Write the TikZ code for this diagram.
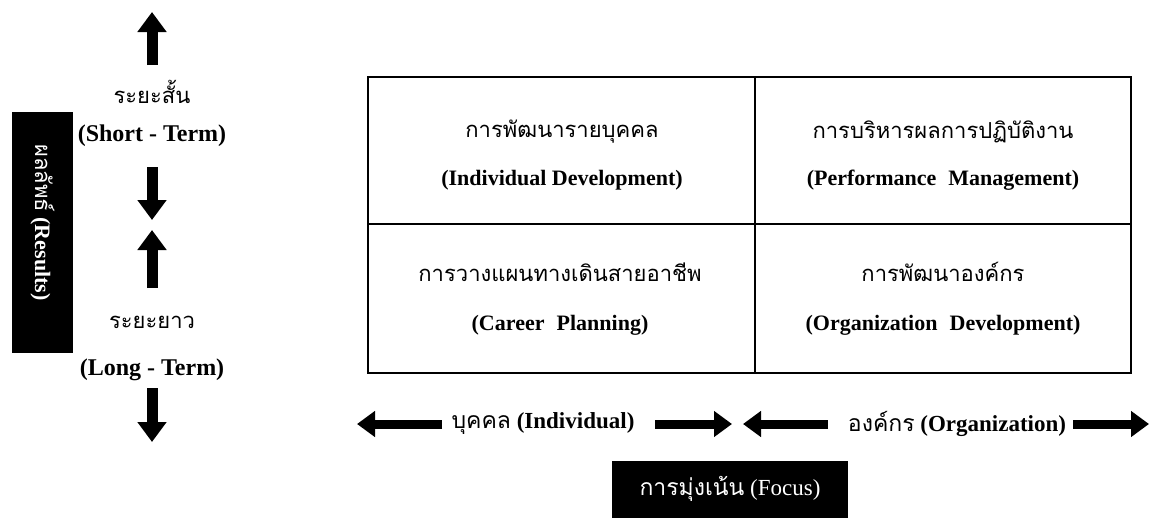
\documentclass[tikz,border=0pt]{standalone}
\usepackage{fontspec}
\setmainfont{Liberation Serif}
\newfontfamily\thaifont[Script=Thai]{Loma}
\usetikzlibrary{arrows.meta}

\newcommand{\wsp}{\hspace{0.55em}}

\tikzset{
  thaitext/.style={font=\thaifont\fontsize{22}{26}\selectfont, inner sep=0pt},
  engtext/.style={font=\bfseries\fontsize{22}{26}\selectfont, inner sep=0pt},
  sidethai/.style={font=\thaifont\fontsize{22}{26}\selectfont, inner sep=0pt},
  sideeng/.style={font=\bfseries\fontsize{24}{28}\selectfont, inner sep=0pt},
  axistext/.style={font=\fontsize{23}{27}\selectfont, inner sep=0pt},
  vertarrow/.style={line width=11pt, -{Triangle[length=20pt,width=28pt]}},
  horizarrow/.style={line width=9pt, -{Triangle[length=18pt,width=25pt]}},
  cellbox/.style={draw, line width=1.4pt},
  blackbox/.style={fill=black, draw=none, inner sep=0pt, text=white},
}

\begin{document}
\begin{tikzpicture}[x=1pt,y=-1pt]
\useasboundingbox (0,0) rectangle (1153,530);

% ---- time horizon column ----
\coordinate (upA-tail) at (152,65);
\coordinate (upA-tip)  at (152,12);
\coordinate (dnA-tail) at (152,167);
\coordinate (dnA-tip)  at (152,220);
\coordinate (upB-tail) at (152,288);
\coordinate (upB-tip)  at (152,230);
\coordinate (dnB-tail) at (152,388);
\coordinate (dnB-tip)  at (152,442);

\draw[vertarrow] (upA-tail) -- (upA-tip);
\node[sidethai] (short-th) at (152,92) {ระยะสั้น};
\node[sideeng]  (short-en) at (152,136) {(Short - Term)};
\draw[vertarrow] (dnA-tail) -- (dnA-tip);
\draw[vertarrow] (upB-tail) -- (upB-tip);
\node[sidethai] (long-th) at (152,322) {ระยะยาว};
\node[sideeng]  (long-en) at (152,370) {(Long - Term)};
\draw[vertarrow] (dnB-tail) -- (dnB-tip);

% ---- results label (box and text rotated together) ----
\node[blackbox, minimum width=241pt, minimum height=61pt, rotate=-90,
      font=\fontsize{22}{26}\selectfont] (results) at (42.5,232.5)
  {{\thaifont ผลลัพธ์} \textbf{(Results)}\hspace*{20pt}};

% ---- quadrant grid ----
\draw[cellbox] (368,77) rectangle (755,224);
\draw[cellbox] (755,77) rectangle (1131,224);
\draw[cellbox] (368,224) rectangle (755,373);
\draw[cellbox] (755,224) rectangle (1131,373);

\node[thaitext] (ind-th) at (562,132) {การพัฒนารายบุคคล};
\node[engtext]  (ind-en) at (562,180) {(Individual Development)};
\node[thaitext] (perf-th) at (943,132) {การบริหารผลการปฏิบัติงาน};
\node[engtext]  (perf-en) at (943,180) {(Performance\wsp Management)};
\node[thaitext] (car-th) at (560,272) {การวางแผนทางเดินสายอาชีพ};
\node[engtext]  (car-en) at (560,325) {(Career\wsp Planning)};
\node[thaitext] (org-th) at (943,272) {การพัฒนาองค์กร};
\node[engtext]  (org-en) at (943,325) {(Organization\wsp Development)};

% ---- focus axis ----
\coordinate (l1-tip)  at (357,424);
\coordinate (l1-tail) at (442,424);
\coordinate (r1-tail) at (655,424);
\coordinate (r1-tip)  at (732,424);
\coordinate (l2-tip)  at (743,424);
\coordinate (l2-tail) at (828,424);
\coordinate (r2-tail) at (1073,424);
\coordinate (r2-tip)  at (1149,424);

\draw[horizarrow] (l1-tail) -- (l1-tip);
\node[axistext] (indiv) at (543,424) {{\thaifont บุคคล} \textbf{(Individual)}};
\draw[horizarrow] (r1-tail) -- (r1-tip);
\draw[horizarrow] (l2-tail) -- (l2-tip);
\node[axistext] (orga) at (957,424) {{\thaifont องค์กร} \textbf{(Organization)}};
\draw[horizarrow] (r2-tail) -- (r2-tip);

\node[blackbox, minimum width=236pt, minimum height=57pt,
      font=\fontsize{23}{27}\selectfont] (focus) at (730,489)
  {{\thaifont การมุ่งเน้น} (Focus)};
\end{tikzpicture}
\end{document}
